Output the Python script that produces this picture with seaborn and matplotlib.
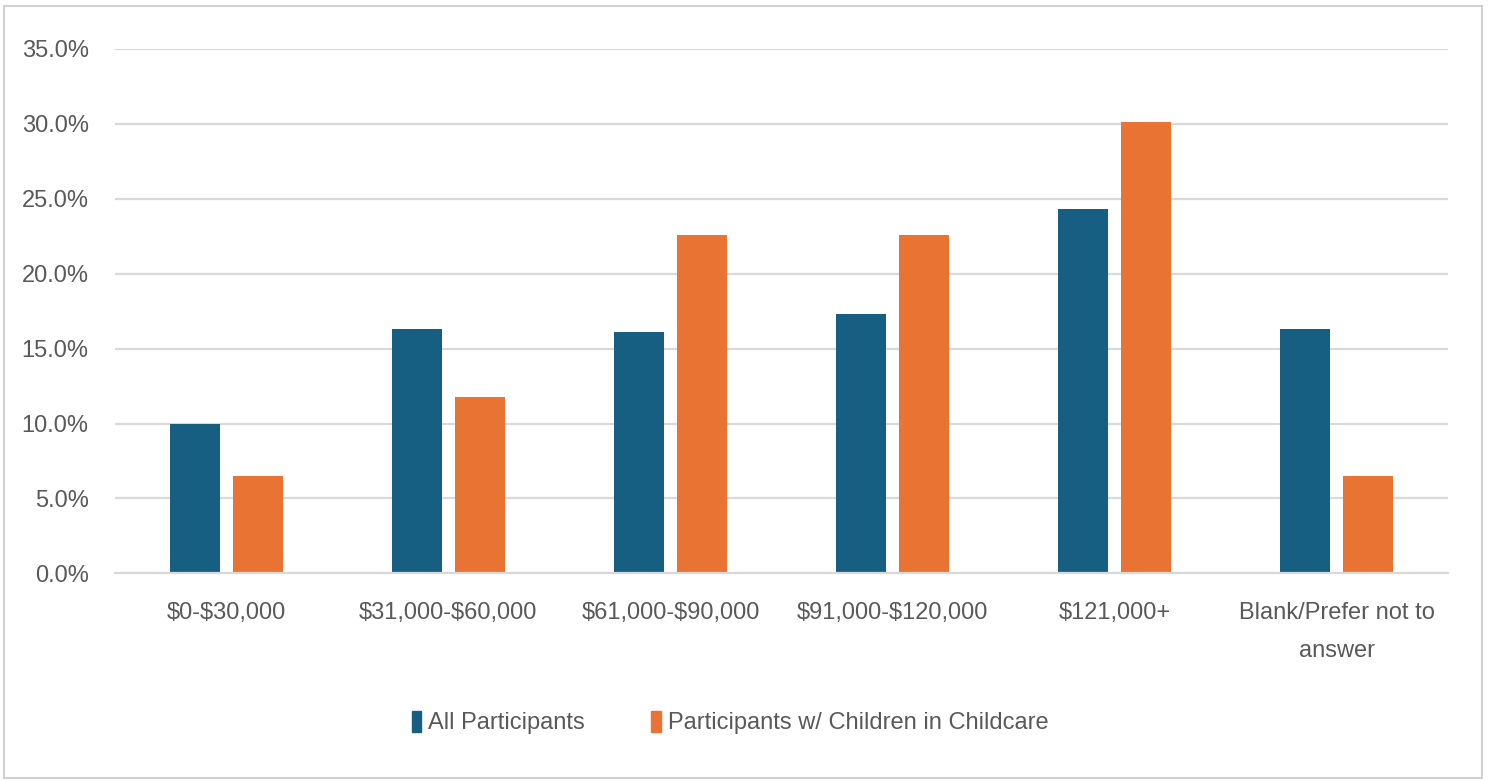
import matplotlib
matplotlib.use("Agg")
import matplotlib.pyplot as plt
from matplotlib import font_manager
from matplotlib.patches import Rectangle, Patch
from matplotlib.ticker import FuncFormatter, MultipleLocator
import pandas as pd
import seaborn as sns

categories = ["$0-$30,000", "$31,000-$60,000", "$61,000-$90,000",
              "$91,000-$120,000", "$121,000+", "Blank/Prefer not to\nanswer"]
all_participants = [10.0, 16.3, 16.1, 17.3, 24.3, 16.3]
childcare_participants = [6.5, 11.8, 22.6, 22.6, 30.1, 6.5]
series_names = ["All Participants", "Participants w/ Children in Childcare"]
colors = ["#165E82", "#E87332"]

df = pd.DataFrame({
    "category": categories * 2,
    "value": all_participants + childcare_participants,
    "series": [series_names[0]] * len(categories) + [series_names[1]] * len(categories),
})

sns.set_theme(style="white")
installed = {f.name for f in font_manager.fontManager.ttflist}
family = "Liberation Sans Narrow" if "Liberation Sans Narrow" in installed else "Liberation Sans"
plt.rcParams["font.family"] = [family, "DejaVu Sans"]
plt.rcParams["text.parse_math"] = False
text_color = "#595959"
fs = 17

fig = plt.figure(figsize=(14.9, 7.81), dpi=100)
ax = fig.add_axes([0.0772, 0.2659, 0.8946, 0.6714])

sns.barplot(data=df, x="category", y="value", hue="series", palette=colors,
            width=0.568, gap=0.206, ax=ax, legend=False, saturation=1,
            linewidth=0)

ax.set_ylim(0, 35)
ax.set_xlim(-0.5, len(categories) - 0.5)
ax.yaxis.set_major_locator(MultipleLocator(5))
ax.yaxis.set_major_formatter(FuncFormatter(lambda v, _: f"{v:.1f}%"))
ax.grid(axis="y", color="#D9D9D9", linewidth=1.6)
ax.set_axisbelow(True)
for side in ["top", "right", "left"]:
    ax.spines[side].set_visible(False)
ax.spines["bottom"].set_color("#D9D9D9")
ax.spines["bottom"].set_linewidth(1.6)
ax.set_xlabel("")
ax.set_ylabel("")
ax.tick_params(axis="y", labelsize=fs, colors=text_color, pad=19, length=0)
ax.tick_params(axis="x", labelsize=fs, colors=text_color, pad=21, length=0)
for lbl in ax.get_xticklabels():
    lbl.set_linespacing(1.9)

handles = [Patch(facecolor=c, edgecolor=c) for c in colors]
fig.legend(handles, series_names, loc="center", bbox_to_anchor=(0.49, 0.075),
           ncol=2, frameon=False, fontsize=fs, labelcolor=text_color,
           handlelength=0.4, handleheight=1.0, handletextpad=0.3,
           columnspacing=2.8)

fig.patches.append(Rectangle((4 / 1490, 3 / 781), 1478 / 1490, 772 / 781,
                             transform=fig.transFigure, fill=False,
                             edgecolor="#D0D0D0", linewidth=1.5))

fig.savefig("out.png", dpi=100, facecolor="white")
